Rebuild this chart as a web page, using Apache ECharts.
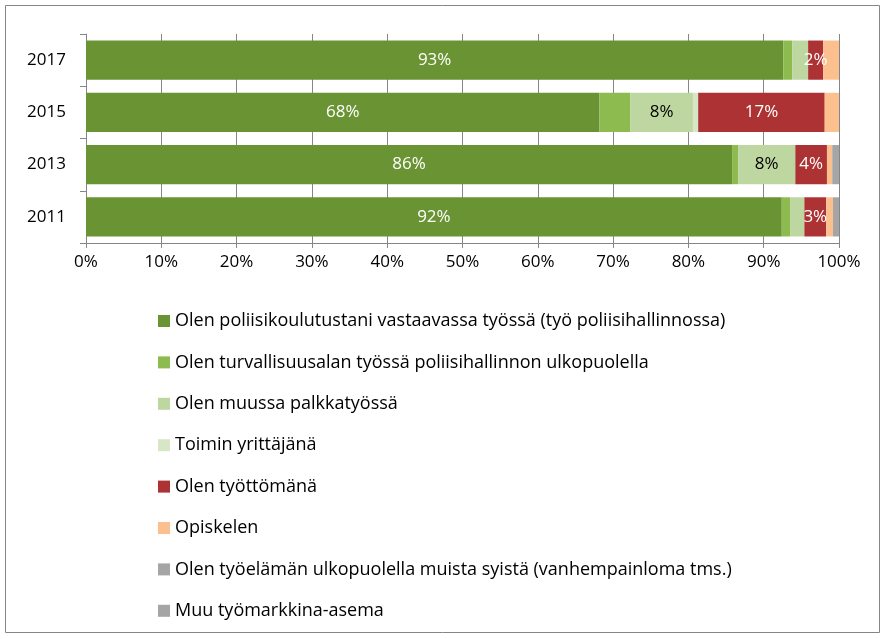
<!DOCTYPE html>
<html>
<head>
<meta charset="utf-8">
<script src="https://cdn.jsdelivr.net/npm/echarts@6/dist/echarts.min.js"></script>
<style>
html, body { margin: 0; padding: 0; background: #fff; }
#chart { width: 886px; height: 639px; }
</style>
</head>
<body>
<div id="chart"></div>
<script>
// vuodet ylhäältä alas
var years = ['2017', '2015', '2013', '2011'];

var seriesNames = [
	'Olen poliisikoulutustani vastaavassa työssä (työ poliisihallinnossa)',
	'Olen turvallisuusalan työssä poliisihallinnon ulkopuolella',
	'Olen muussa palkkatyössä',
	'Toimin yrittäjänä',
	'Olen työttömänä',
	'Opiskelen',
	'Olen työelämän ulkopuolella muista syistä (vanhempainloma tms.)',
	'Muu työmarkkina-asema'
];

var poliisi = [92.6, 68.2, 85.8, 92.4];
var turvallisuus = [1.2, 4.1, 0.8, 1.1];
var palkkatyo = [2.1, 8.3, 7.6, 1.9];
var yrittaja = [0, 0.7, 0, 0];
var tyoton = [2.0, 16.8, 4.2, 2.9];
var opiskelee = [2.1, 1.9, 0.7, 0.9];
var ulkopuolella = [0, 0, 0.9, 0.8];
var muu = [0, 0, 0, 0];

// mitkä arvot saavat näkyvän tunnisteen
var showLabel = [
	[true, true, true, true],
	[false, false, false, false],
	[false, true, true, false],
	[false, false, false, false],
	[true, true, true, true],
	[false, false, false, false],
	[false, false, false, false],
	[false, false, false, false]
];

var ticks = [0, 10, 20, 30, 40, 50, 60, 70, 80, 90, 100];

var colors = ['#6A9433', '#8DBB50', '#BED7A0', '#D7E7C5', '#AC3233', '#FCC08F', '#A5A5A5', '#A5A5A5'];
var labelColors = ['#fff', '#fff', '#000', '#000', '#fff', '#000', '#000', '#000'];
var values = [poliisi, turvallisuus, palkkatyo, yrittaja, tyoton, opiskelee, ulkopuolella, muu];

var font = '"Open Sans", sans-serif';
var gridColor = '#868686';

var series = [];
for (var s = 0; s < seriesNames.length; s++) {
	var data = [];
	for (var i = 0; i < years.length; i++) {
		data.push({
			value: values[s][i],
			label: { show: showLabel[s][i] }
		});
	}
	series.push({
		name: seriesNames[s],
		type: 'bar',
		stack: 'all',
		barCategoryGap: '25%',
		itemStyle: { color: colors[s] },
		label: {
			position: 'inside',
			color: labelColors[s],
			fontFamily: font,
			fontSize: 17,
			formatter: function(p) {
				return Math.round(p.value) + '%';
			}
		},
		data: data
	});
}

var chart = echarts.init(document.getElementById('chart'));
chart.setOption({
	animation: false,
	color: colors,
	graphic: [{
		type: 'rect',
		shape: { x: 5.5, y: 5.5, width: 874, height: 627 },
		style: { fill: 'none', stroke: '#868686', lineWidth: 1 }
	}],
	grid: {
		left: 86,
		right: 47,
		top: 34,
		height: 209
	},
	xAxis: {
		type: 'value',
		min: ticks[0],
		max: ticks[ticks.length - 1],
		interval: 10,
		axisLine: { show: true, lineStyle: { color: gridColor } },
		axisTick: { show: true, length: 5, lineStyle: { color: gridColor } },
		splitLine: { show: true, lineStyle: { color: gridColor, width: 1 } },
		axisLabel: {
			color: '#000',
			fontFamily: font,
			fontSize: 17,
			margin: 11,
			formatter: '{value}%'
		}
	},
	yAxis: {
		type: 'category',
		inverse: true,
		data: years,
		axisLine: { show: true, lineStyle: { color: gridColor } },
		axisTick: { show: true, length: 6, lineStyle: { color: gridColor } },
		axisLabel: {
			color: '#000',
			fontFamily: font,
			fontSize: 17,
			margin: 20
		}
	},
	legend: {
		orient: 'vertical',
		left: 153,
		top: 305,
		itemWidth: 12,
		itemHeight: 12,
		itemGap: 19.4,
		icon: 'rect',
		textStyle: {
			color: '#000',
			fontFamily: font,
			fontSize: 18,
			lineHeight: 22,
			padding: [0, 0, 0, 0]
		},
		data: seriesNames
	},
	series: series
});
</script>
</body>
</html>
